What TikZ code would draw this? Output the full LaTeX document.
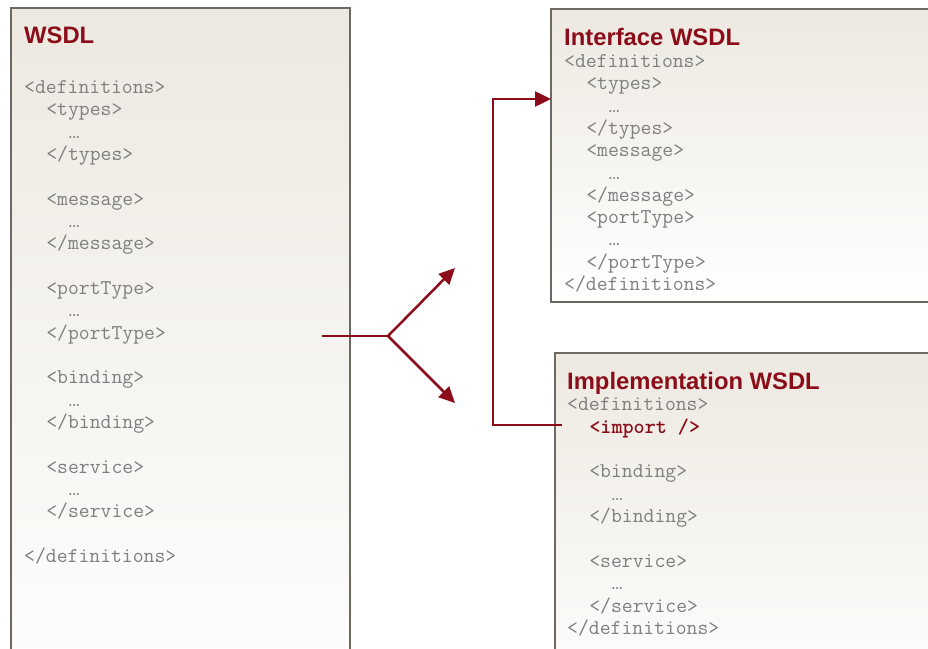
\documentclass[tikz,border=0pt]{standalone}
\usepackage{fontspec}
\setmainfont{Liberation Sans}
\newfontfamily\dotsfont{Liberation Mono}
\usetikzlibrary{arrows.meta}

\definecolor{wsdlred}{HTML}{8B0D1A}
\definecolor{boxline}{HTML}{6D6961}
\definecolor{boxtop}{HTML}{EDE9E1}
\definecolor{codegray}{HTML}{7F7F7F}

\newcommand\ellip{{\dotsfont\fontsize{18.46}{22}\selectfont …}}

\tikzset{
  docbox/.style={draw=boxline, line width=2pt, top color=boxtop, bottom color=white,
    inner sep=0, outer sep=0, anchor=north west},
  doctitle/.style={font=\bfseries\fontsize{23.8}{28}\selectfont, text=wsdlred,
    inner sep=0, anchor=base west},
  code/.style={font=\ttfamily\fontsize{21.1}{25}\selectfont, text=codegray,
    inner sep=0, anchor=base west},
  link/.style={draw=wsdlred, line width=2.5pt},
  linktip/.style={-{Triangle[length=16pt,width=15pt]}}
}

\begin{document}
\begin{tikzpicture}[x=1pt,y=-1pt]
        \useasboundingbox (0,0) rectangle (928,648);

        % boxes
        \node[docbox, minimum width=339, minimum height=720] (wsdlbox) at (11,8) {};
        \node[docbox, minimum width=420, minimum height=293] (ifbox) at (551,9) {};
        \node[docbox, minimum width=420, minimum height=360] (implbox) at (555,353) {};

        % whole WSDL
        \node[doctitle] (wsdltitle) at (24,43.5) {WSDL};
        \foreach \i/\x/\t in {0/0/{<definitions>}, 1/2/{<types>}, 2/4/{\ellip}, 3/2/{</types>},
            5/2/{<message>}, 6/4/{\ellip}, 7/2/{</message>},
            9/2/{<portType>}, 10/4/{\ellip}, 11/2/{</portType>},
            13/2/{<binding>}, 14/4/{\ellip}, 15/2/{</binding>},
            17/2/{<service>}, 18/4/{\ellip}, 19/2/{</service>},
            21/0/{</definitions>}}
          \node[code] (wsdl-\i) at (24+\x*11.08, 93.5+\i*22.33) {\t};

        % interface part
        \node[doctitle] (iftitle) at (564,45.5) {Interface WSDL};
        \foreach \i/\x/\t in {0/0/{<definitions>}, 1/2/{<types>}, 2/4/{\ellip}, 3/2/{</types>},
            4/2/{<message>}, 5/4/{\ellip}, 6/2/{</message>},
            7/2/{<portType>}, 8/4/{\ellip}, 9/2/{</portType>},
            10/0/{</definitions>}}
          \node[code] (if-\i) at (564+\x*11.08, 67.5+\i*22.3) {\t};

        % implementation part
        \node[doctitle] (impltitle) at (567,389.5) {Implementation WSDL};
        \node[code] (impl-0) at (567,410.5) {<definitions>};
        \node[code, text=wsdlred, font=\ttfamily\bfseries\fontsize{21.1}{25}\selectfont]
          (import) at (567+2*11.08,433) {<import />};
        \foreach \i/\x/\t in {3/2/{<binding>}, 4/4/{\ellip}, 5/2/{</binding>},
            7/2/{<service>}, 8/4/{\ellip}, 9/2/{</service>},
            10/0/{</definitions>}}
          \node[code] (impl-\i) at (567+\x*11.08, 410.5+\i*22.4) {\t};

        % split arrow
        \coordinate (split-in) at (322,336);
        \coordinate (split) at (388,336);
        \coordinate (split-up) at (455,268);
        \coordinate (split-down) at (455,403);
        \draw[link] (split-in) -- (split);
        \draw[link, linktip] (split) -- (split-up);
        \draw[link, linktip] (split) -- (split-down);

        % import arrow
        \coordinate (import-out) at (562,425);
        \coordinate (import-in) at (551,99);
        \draw[link, linktip] (import-out) -| (493,99) -- (import-in);

      \end{tikzpicture}
\end{document}
